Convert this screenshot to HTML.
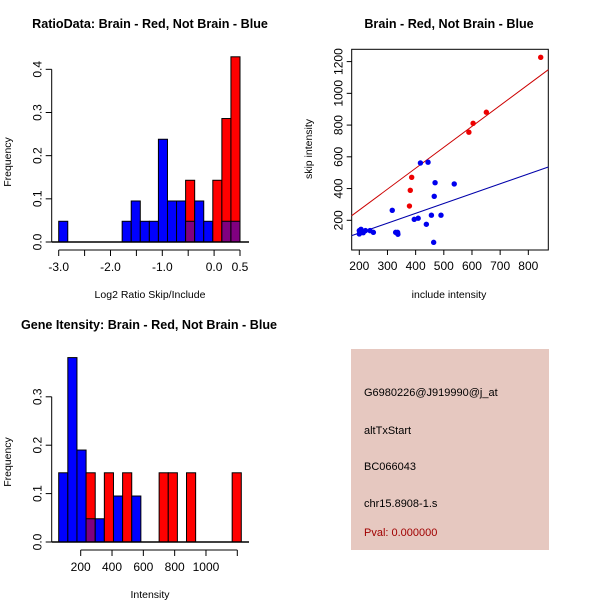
<!DOCTYPE html>
<html><head><meta charset="utf-8"><style>
body{margin:0;background:#fff}
svg{display:block;font-family:"Liberation Sans",Arial,sans-serif}
</style></head><body>
<svg id="c" width="600" height="600" xmlns="http://www.w3.org/2000/svg">
<rect width="600" height="600" fill="#fff"/>
<g id="p1"></g>
<g id="p2"></g>
<g id="p3"></g>
<g>
<rect x="351" y="349" width="198" height="201" fill="#e6c8c0"/>
<text x="364" y="396" font-size="11">G6980226@J919990@j_at</text>
<text x="364" y="434" font-size="11">altTxStart</text>
<text x="364" y="470" font-size="11">BC066043</text>
<text x="364" y="507" font-size="11">chr15.8908-1.s</text>
<text x="364" y="536" font-size="11" fill="#a00000">Pval: 0.000000</text>
</g>
</svg>
<script>
// Ratio histogram data (20 bins from -3.0, width 0.175)
const ratioBinStart = -3.0, ratioBinWidth = 0.175;
const ratioBlue = [0.048,0,0,0,0,0,0,0.048,0.095,0.048,0.048,0.238,0.095,0.095,0.048,0.095,0.048,0,0.048,0.048];
const ratioRed  = [0,0,0,0,0,0,0,0,0,0,0,0,0,0,0.143,0,0,0.143,0.286,0.429];
const ratioXTicks = [-3.0,-2.5,-2.0,-1.5,-1.0,-0.5,0.0,0.5];
const ratioXLabels = ["-3.0","","-2.0","","-1.0","","0.0","0.5"];
const ratioYTicks = [0,0.1,0.2,0.3,0.4];
// Gene intensity histogram (20 bins from 59.5, width 58.3)
const geneBinStart = 59.5, geneBinWidth = 58.3;
const geneBlue = [0.143,0.381,0.190,0.048,0.048,0,0.095,0,0.095,0,0,0,0,0,0,0,0,0,0,0];
const geneRed  = [0,0,0,0.143,0,0.143,0,0.143,0,0,0,0.143,0.143,0,0.143,0,0,0,0,0.143];
const geneXTicks = [200,400,600,800,1000,1200];
const geneXLabels = ["200","400","600","800","1000",""];
const geneYTicks = [0,0.1,0.2,0.3];
// Scatter data
const redX = [844,651,604,589,386,381,378];
const redY = [1227,881,811,755,471,389,290];
const blueX = [200,200,206,214,222,238,250,317,329,336,337,395,409,417,444,438,456,469,466,464,490,537];
const blueY = [114,135,143,122,135,135,124,263,124,124,112,206,213,561,566,175,232,437,351,61,232,429];
const fitSlope = [1.318,0.62];
const fitIntercept = [1,-4];
const scatterXTicks = [200,300,400,500,600,700,800];
const scatterYTicks = [200,400,600,800,1000,1200];

const NS="http://www.w3.org/2000/svg";
function mk(parent,tag,attrs,txt){const e=document.createElementNS(NS,tag);for(const k in attrs)e.setAttribute(k,attrs[k]);if(txt!==undefined)e.textContent=txt;parent.appendChild(e);return e;}

function histogram(g, cfg){
  const sx=v=>cfg.x0px+(v-cfg.xv0)*cfg.kx, sy=v=>cfg.y0px-v*cfg.ky;
  const n=cfg.blue.length;
  for(let i=0;i<n;i++){
    const a=cfg.start+i*cfg.w, b=a+cfg.w, bl=cfg.blue[i], rd=cfg.red[i];
    const hi=Math.max(bl,rd), lo=Math.min(bl,rd);
    if(hi>0){
      const r=mk(g,'rect',{x:sx(a),y:sy(hi),width:sx(b)-sx(a),height:sy(0)-sy(hi),fill:rd>=bl?'#ff0000':'#0000ff',stroke:'#000','stroke-width':1});
      
      
    }
    if(lo>0){
      const r=mk(g,'rect',{x:sx(a),y:sy(lo),width:sx(b)-sx(a),height:sy(0)-sy(lo),fill:'#800080',stroke:'#000','stroke-width':1});
      
      
    }
  }
  const ax=mk(g,'g',{stroke:'#000','stroke-width':1});
  
  
  const xt=cfg.xticks;
  mk(ax,'line',{x1:sx(xt[0]),x2:sx(xt[xt.length-1]),y1:cfg.xAxisY,y2:cfg.xAxisY});
  xt.forEach((t,i)=>{mk(ax,'line',{x1:sx(t),x2:sx(t),y1:cfg.xAxisY,y2:cfg.xAxisY+6});
    if(cfg.xlabels[i]){const tx=mk(g,'text',{x:sx(t),y:cfg.xAxisY+21,'font-size':12,'text-anchor':'middle'},cfg.xlabels[i]);
    
    }});
  const ay=mk(g,'g',{stroke:'#000','stroke-width':1});
  
  
  const yt=cfg.yticks;
  mk(ay,'line',{x1:cfg.yAxisX,x2:cfg.yAxisX,y1:sy(yt[0]),y2:sy(yt[yt.length-1])});
  yt.forEach(t=>{mk(ay,'line',{x1:cfg.yAxisX-6,x2:cfg.yAxisX,y1:sy(t),y2:sy(t)});
    const tx=mk(g,'text',{x:0,y:0,'font-size':12,'text-anchor':'middle',transform:`translate(${cfg.yAxisX-10},${sy(t)}) rotate(-90)`},t.toFixed(1));
    
    });
  mk(g,'line',{x1:cfg.yAxisX,x2:cfg.x1px,y1:cfg.y0px,y2:cfg.y0px,stroke:'#000','stroke-width':1.5});
  const t1=mk(g,'text',{x:cfg.titleX,y:cfg.titleY,'font-size':12.6,'font-weight':'bold','text-anchor':'middle'},cfg.title);
  
  
  const t2=mk(g,'text',{x:150,y:cfg.xlabY,'font-size':10.5,'text-anchor':'middle'},cfg.xlab);
  
  
  const t3=mk(g,'text',{x:0,y:0,'font-size':10.5,'text-anchor':'middle',transform:`translate(11,${cfg.ylabY}) rotate(-90)`},'Frequency');
  
  
}

histogram(document.getElementById('p1'),{
  start:ratioBinStart,w:ratioBinWidth,blue:ratioBlue,red:ratioRed,
  xv0:-3,x0px:58.7,kx:51.8,y0px:242,ky:431.7,x1px:249,
  xticks:ratioXTicks,xlabels:ratioXLabels,yticks:ratioYTicks,xAxisY:250,yAxisX:51.7,
  title:'RatioData: Brain - Red, Not Brain - Blue',titleX:150,titleY:28,xlab:'Log2 Ratio Skip/Include',xlabY:298,ylabY:162
});
histogram(document.getElementById('p3'),{
  start:geneBinStart,w:geneBinWidth,blue:geneBlue,red:geneRed,
  xv0:200,x0px:80.7,kx:0.1566,y0px:542,ky:484,x1px:249,
  xticks:geneXTicks,xlabels:geneXLabels,yticks:geneYTicks,xAxisY:550,yAxisX:51.7,
  title:'Gene Itensity: Brain - Red, Not Brain - Blue',titleX:149,titleY:329,xlab:'Intensity',xlabY:598,ylabY:462
});

// Scatter
(function(){
  const g=document.getElementById('p2');
  const sx=v=>359.3+(v-200)*0.2817, sy=v=>220.3-(v-200)*0.1587;
  const L=351.7,R=548.3,T=49.3,B=250;
  const box=mk(g,'rect',{x:L,y:T,width:R-L,height:B-T,fill:'none',stroke:'#000','stroke-width':1});
  
  
  const xmin=173,xmax=871;
  const cols=['#cc0000','#0000aa'];
  fitSlope.forEach((m,i)=>{
    const ln=mk(g,'line',{x1:sx(xmin),y1:sy(m*xmin+fitIntercept[i]),x2:sx(xmax),y2:sy(m*xmax+fitIntercept[i]),stroke:cols[i],'stroke-width':1});
    
    
  });
  blueX.forEach((x,i)=>{const c=mk(g,'circle',{cx:sx(x),cy:sy(blueY[i]),r:2.7,fill:'#0000ee'});
    
    });
  redX.forEach((x,i)=>{const c=mk(g,'circle',{cx:sx(x),cy:sy(redY[i]),r:2.7,fill:'#ee0000'});
    
    });
  scatterXTicks.forEach(t=>{mk(g,'line',{x1:sx(t),x2:sx(t),y1:B,y2:B+5,stroke:'#000'});
    const tx=mk(g,'text',{x:sx(t),y:B+20,'font-size':12,'text-anchor':'middle'},String(t));
    
    });
  scatterYTicks.forEach(t=>{mk(g,'line',{x1:L-5,x2:L,y1:sy(t),y2:sy(t),stroke:'#000'});
    const tx=mk(g,'text',{x:0,y:0,'font-size':12,'text-anchor':'middle',transform:`translate(${L-9},${sy(t)}) rotate(-90)`},String(t));
    
    });
  const t1=mk(g,'text',{x:449,y:28,'font-size':12.6,'font-weight':'bold','text-anchor':'middle'},'Brain - Red, Not Brain - Blue');
  
  
  const t2=mk(g,'text',{x:449,y:298,'font-size':10.5,'text-anchor':'middle'},'include intensity');
  
  
  const t3=mk(g,'text',{x:0,y:0,'font-size':10.5,'text-anchor':'middle',transform:'translate(312,149) rotate(-90)'},'skip intensity');
  
  
})();
</script>
</body></html>
